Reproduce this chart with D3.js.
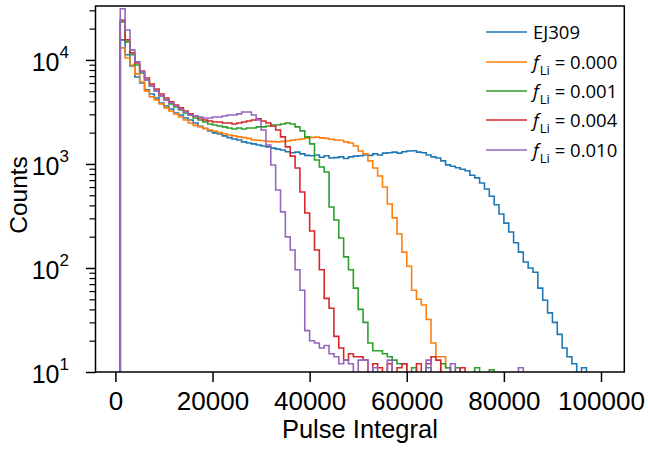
<!DOCTYPE html>
<html><head><meta charset="utf-8">
<script src="https://cdn.jsdelivr.net/npm/d3@7"></script>
<style>body{margin:0;background:#fff} svg{display:block}</style>
</head><body>
<svg id="chart" width="648" height="449"></svg>
<script>
// ---------- data ----------
const binStart = 1000, binWidth = 1000;   // histogram bins of Pulse Integral
const seriesLabels = ["EJ309", "0.000", "0.001", "0.004", "0.010"];
const ej309 = [15600, 11200, 8750, 6860, 6010, 5150, 4710, 4310, 3860, 3610,
  3380, 3090, 2960, 2770, 2650, 2480, 2300, 2190, 2080, 1990,
  1940, 1860, 1790, 1740, 1700, 1630, 1590, 1560, 1520, 1490,
  1460, 1420, 1390, 1360, 1310, 1280, 1300, 1250, 1210, 1200,
  1220, 1160, 1200, 1140, 1150, 1170, 1130, 1170, 1190, 1200,
  1220, 1210, 1250, 1220, 1270, 1280, 1300, 1270, 1310, 1330,
  1340, 1300, 1280, 1220, 1170, 1140, 1070, 980, 950, 920,
  890, 860, 780, 735, 655, 575, 490, 405, 330, 270,
  222, 175, 142, 114, 100, 91, 64, 49, 37, 30,
  23, 17, 14, 12, 0, 11];
const fLi000 = [13050, 10450, 8950, 7340, 6140, 5040, 4410, 4130, 3780, 3460,
  3230, 3030, 2830, 2650, 2480, 2350, 2280, 2200, 2120, 2060,
  2000, 1950, 1900, 1860, 1820, 1790, 1760, 1700, 1690, 1670,
  1650, 1640, 1630, 1650, 1660, 1690, 1720, 1740, 1770, 1800,
  1810, 1780, 1760, 1730, 1700, 1690, 1630, 1590, 1490, 1330,
  1250, 1070, 915, 767, 601, 412, 303, 212, 142, 104,
  61, 50, 44, 32, 19, 14, 14, 11];
const fLi001 = [23200, 14900, 11200, 8950, 7500, 6420, 5620, 5040, 4510, 4130,
  3780, 3530, 3310, 3090, 2960, 2770, 2650, 2530, 2420, 2370,
  2320, 2270, 2220, 2170, 2220, 2170, 2220, 2220, 2270, 2270,
  2320, 2370, 2370, 2420, 2480, 2420, 2270, 2080, 1820, 1560,
  1090, 936, 838, 386, 289, 194, 128, 96, 64, 40,
  30, 19, 16, 16, 15, 14, 13, 12, 12, 0,
  11, 0, 0, 11, 0, 0, 12, 11, 0, 11,
  0, 0, 0, 11, 0, 0, 10.5];
const fLi004 = [24200, 15600, 11700, 9360, 7840, 6710, 5880, 5260, 4710, 4310,
  3950, 3690, 3460, 3230, 3030, 2890, 2770, 2650, 2590, 2530,
  2530, 2480, 2480, 2420, 2480, 2530, 2590, 2650, 2710, 2590,
  2480, 2320, 2120, 1820, 1460, 1190, 915, 538, 338, 227,
  149, 96, 51, 41, 22, 17, 13, 15, 14, 14,
  13, 0, 12, 11, 0, 12, 0, 11, 12, 0,
  0, 12, 0, 12, 14, 13, 0, 0, 0, 0,
  11];
const fLi010 = [31000, 19400, 12500, 9570, 7670, 6420, 5620, 5040, 4510, 4130,
  3860, 3610, 3380, 3160, 2960, 2890, 2830, 2770, 2770, 2830,
  2830, 2890, 2960, 2960, 3030, 3160, 3160, 2960, 2650, 2120,
  1520, 978, 562, 346, 199, 149, 96, 61, 25, 20,
  19, 17, 18, 15, 14, 12, 13, 12, 0, 13,
  13, 0, 11, 0, 0, 13, 0, 0, 0, 0,
  0, 0, 0, 13, 0, 0, 0, 0, 12, 0,
  0, 0, 0, 0, 0, 0, 0, 0, 0, 0,
  0, 0, 11];
const xTicks = [0, 20000, 40000, 60000, 80000, 100000];
const yMajorTicks = [10, 100, 1000, 10000];
const yExponents = ["1", "2", "3", "4"];
const yMinorTicks = [20,30,40,50,60,70,80,90,200,300,400,500,600,700,800,900,
  2000,3000,4000,5000,6000,7000,8000,9000,20000,30000];
const seriesList = [ej309, fLi000, fLi001, fLi004, fLi010];
const colors = ["#1f77b4", "#ff7f0e", "#2ca02c", "#d62728", "#9467bd"];

// ---------- layout ----------
const L = 95.5, R = 624.3, T = 6, B = 372;
const svg = d3.select("#chart");
const x = d3.scaleLinear().domain([-4100, 104800]).range([L, R]);
const y = d3.scaleLog().domain([10, 33000]).range([B, T]);
const AX = "Liberation Sans, Arial, Helvetica, sans-serif";

svg.append("defs").append("clipPath").attr("id", "plotclip")
  .append("rect").attr("x", L).attr("y", T).attr("width", R - L).attr("height", B - T);

const floorVal = 1; // empty bins drop below the axis
function stepPoints(counts) {
  const pts = [];
  const e0 = binStart;
  pts.push([x(e0), y(floorVal)]);
  counts.forEach((c, i) => {
    const v = c > 0 ? c : floorVal;
    pts.push([x(binStart + i * binWidth), y(v)]);
    pts.push([x(binStart + (i + 1) * binWidth), y(v)]);
  });
  pts.push([x(binStart + counts.length * binWidth), y(floorVal)]);
  return pts;
}
const line = d3.line();
const g = svg.append("g").attr("clip-path", "url(#plotclip)");
seriesList.forEach((s, k) => {
  g.append("path").attr("d", line(stepPoints(s)))
    .attr("fill", "none").attr("stroke", colors[k])
    .attr("stroke-width", 1.6).attr("stroke-linejoin", "miter");
});

// frame
svg.append("rect").attr("x", L).attr("y", T).attr("width", R - L).attr("height", B - T)
  .attr("fill", "none").attr("stroke", "#000").attr("stroke-width", 1.5);

// x axis
const xa = svg.append("g").attr("transform", `translate(0,${B})`)
  .call(d3.axisBottom(x).tickValues(xTicks).tickSize(10).tickPadding(6).tickFormat(d3.format("d")));
xa.select(".domain").remove();
xa.selectAll("line").attr("stroke", "#000").attr("stroke-width", 1.5);
xa.selectAll("text").attr("font-family", AX).attr("font-size", 26).attr("fill", "#000")
  .attr("dy", null).attr("y", 38);

// y axis major
const ya = svg.append("g").attr("transform", `translate(${L},0)`)
  .call(d3.axisLeft(y).tickValues(yMajorTicks).tickSize(9.5).tickFormat(""));
ya.select(".domain").remove();
ya.selectAll("line").attr("stroke", "#000").attr("stroke-width", 1.5);
const ym = svg.append("g").attr("transform", `translate(${L},0)`)
  .call(d3.axisLeft(y).tickValues(yMinorTicks).tickSize(6).tickFormat(""));
ym.select(".domain").remove();
ym.selectAll("line").attr("stroke", "#000").attr("stroke-width", 1.2);

yMajorTicks.forEach((v, i) => {
  const t = svg.append("text").attr("x", 69).attr("y", y(v) + 11)
    .attr("text-anchor", "end").attr("font-family", AX).attr("fill", "#000");
  t.append("tspan").attr("font-size", 25).text("10");
  t.append("tspan").attr("font-size", 17).attr("dy", -13).text(yExponents[i]);
});

// axis labels
svg.append("text").attr("x", (L + R) / 2 + 0).attr("y", 438).attr("text-anchor", "middle")
  .attr("font-family", AX).attr("font-size", 25.5).attr("fill", "#000").text("Pulse Integral");
svg.append("text").attr("transform", "translate(27,195) rotate(-90)").attr("text-anchor", "middle")
  .attr("font-family", AX).attr("font-size", 24.5).attr("fill", "#000").text("Counts");

// legend
const LG = "Open Sans, Noto Sans, sans-serif";
const rowY = [32, 62, 91, 120, 150];
seriesLabels.forEach((lab, k) => {
  const yy = rowY[k];
  svg.append("line").attr("x1", 486).attr("x2", 527).attr("y1", yy).attr("y2", yy)
    .attr("stroke", colors[k]).attr("stroke-width", 1.6);
  const t = svg.append("text").attr("x", 533).attr("y", yy + 6.5)
    .attr("font-family", LG).attr("font-size", 18.5).attr("fill", "#000");
  if (k === 0) {
    t.text(lab);
  } else {
    t.append("tspan").attr("font-style", "italic").text("f");
    t.append("tspan").attr("font-size", 13).attr("dy", 6).attr("dx", 1).text("Li");
    t.append("tspan").attr("dy", -6).text(" = " + lab);
  }
});
</script>
</body></html>
